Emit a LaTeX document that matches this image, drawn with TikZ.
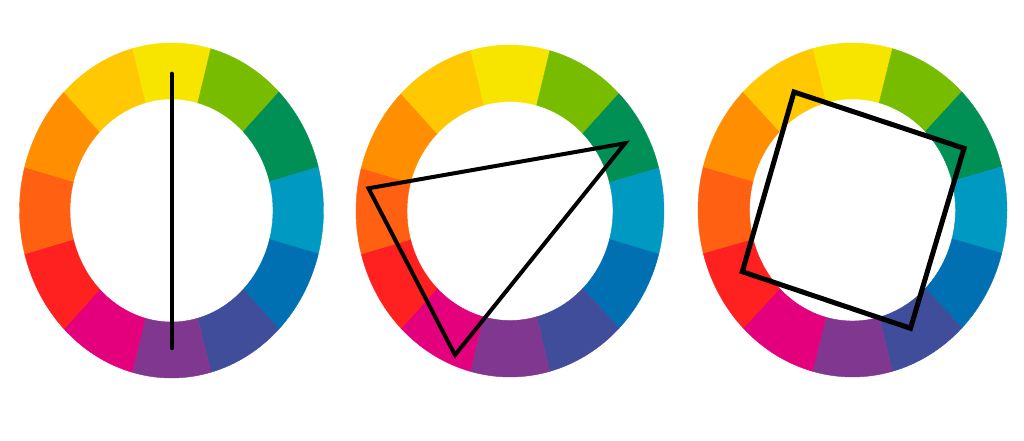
\documentclass[tikz,border=0pt]{standalone}
\definecolor{cY}{HTML}{F7E500}
\definecolor{cYG}{HTML}{78BC00}
\definecolor{cG}{HTML}{008F55}
\definecolor{cC}{HTML}{0099C2}
\definecolor{cB}{HTML}{0070B2}
\definecolor{cBV}{HTML}{404D9B}
\definecolor{cV}{HTML}{7F3790}
\definecolor{cM}{HTML}{E4007C}
\definecolor{cR}{HTML}{FF2020}
\definecolor{cRO}{HTML}{FF6012}
\definecolor{cO}{HTML}{FF8F00}
\definecolor{cYO}{HTML}{FFC800}
\tikzset{harmony/.style={draw=black, line width=4pt, line join=miter}}
\newcommand{\colwheel}[7]{%
  % #1,#2 centre; #3,#4 outer radii; #5,#6 inner radii; #7 name
  \coordinate (#7) at (#1,#2);
  \foreach \a/\c in {-105/cY,-75/cYG,-45/cG,-15/cC,15/cB,45/cBV,75/cV,105/cM,135/cR,165/cRO,195/cO,225/cYO}{
    \pgfmathsetmacro{\b}{\a+30}
    \fill[\c, draw=\c, line width=0.4pt]
      ([shift={(#7)}]\a:#3 and #4) arc[start angle=\a, end angle=\b, x radius=#3, y radius=#4]
      -- ([shift={(#7)}]\b:#5 and #6) arc[start angle=\b, end angle=\a, x radius=#5, y radius=#6]
      -- cycle;
  }%
}
\begin{document}
\begin{tikzpicture}[x=1pt,y=-1pt]
\useasboundingbox[fill=white] (0,0) rectangle (1024,441);
\colwheel{171.5}{210.5}{152}{167.5}{101.5}{111.5}{w1}
\colwheel{510}{211}{154}{166}{103}{109.5}{w2}
\colwheel{852.5}{210}{154.5}{167}{103}{111}{w3}
% complementary
\coordinate (p1) at (171.7,73.5);
\coordinate (p2) at (171.7,348.3);
\draw[harmony, line width=3.6pt, line cap=round] (p1) -- (p2);
% triad
\coordinate (t1) at (368.5,188.3);
\coordinate (t2) at (625,143.3);
\coordinate (t3) at (455,355);
\draw[harmony] (t1) -- (t2) -- (t3) -- cycle;
% square
\coordinate (s1) at (794,92);
\coordinate (s2) at (964,148.3);
\coordinate (s3) at (910.5,328.3);
\coordinate (s4) at (742.3,271.7);
\draw[harmony, line width=5pt] (s1) -- (s2) -- (s3) -- (s4) -- cycle;
\end{tikzpicture}
\end{document}
